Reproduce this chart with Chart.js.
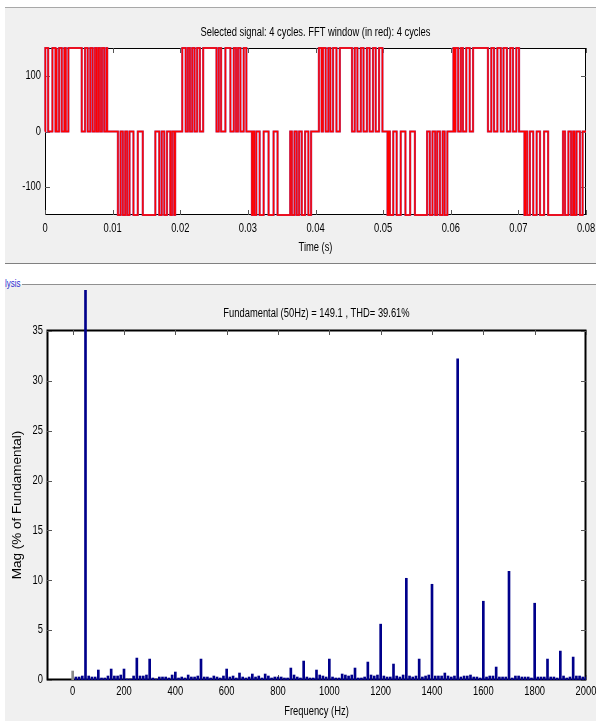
<!DOCTYPE html>
<html>
<head>
<meta charset="utf-8">
<script src="https://cdn.jsdelivr.net/npm/chart.js@4.4.0/dist/chart.umd.min.js"></script>
<style>
  body { margin: 0; width: 596px; height: 722px; background: #fff; position: relative; overflow: hidden; }
  .panel { position: absolute; background: #f0f0f0; }
  #topPanel { left: 5px; top: 7px; width: 591px; height: 255px; border-top: 1px solid #a8a8a8; border-bottom: 1px solid #808080; }
  #botPanel { left: 5px; top: 284px; width: 591px; height: 437px; }
  #groupLine { position: absolute; left: 22px; top: 284px; width: 574px; height: 1px; background: #909090; }
  #groupLabel { position: absolute; left: 5px; top: 278px; font: 10px "Liberation Sans", sans-serif; color: #2b2bd0; transform: scaleX(0.8); transform-origin: left top; }
  .box { position: absolute; left: 0; width: 596px; }
  #topBox { top: 8px; height: 255px; }
  #botBox { top: 290px; height: 432px; }
</style>
</head>
<body>
<div class="panel" id="topPanel"></div>
<div class="panel" id="botPanel"></div>
<div id="groupLine"></div>
<div id="groupLabel">lysis</div>
<div class="box" id="topBox"><canvas id="signalChart"></canvas></div>
<div class="box" id="botBox"><canvas id="fftChart"></canvas></div>
<script>
// ---- top panel: signal, pulses per half cycle [on, off] in ms ----
const signalTitle = 'Selected signal: 4 cycles. FFT window (in red): 4 cycles';
const timeTitle = 'Time (s)';
const timeTicks = [0, 0.01, 0.02, 0.03, 0.04, 0.05, 0.06, 0.07, 0.08];
const voltTicks = [-100, 0, 100];
const halfCycleLevels = [150, -150, 150, -150, 150, -150, 150, -150];
const halfCyclePulses = [
  [[0.05, 0.47], [1.1, 1.55], [1.65, 1.74], [2.09, 2.48], [2.87, 3.07], [3.46, 5.43],
   [5.92, 6.31], [6.7, 7.04], [7.39, 7.63], [7.88, 8.13], [8.42, 8.76], [9.1, 9.2]],
  [[10.78, 11.17], [11.51, 11.86], [12.15, 12.5], [13.08, 13.72], [14.46, 16.32],
   [16.9, 17.26], [17.64, 18.04], [18.53, 18.78], [19.12, 19.25]],
  [[20.3, 20.8], [21.13, 21.43], [21.77, 22.12], [22.5, 22.9], [23.39, 25.36],
   [25.7, 26.04], [26.68, 27.42], [27.91, 28.25], [28.54, 28.9], [29.38, 29.78]],
  [[30.6, 30.75], [30.96, 31.25], [31.74, 32.33], [33.06, 33.8], [34.39, 36.26],
   [36.5, 36.89], [37.23, 37.58], [37.97, 38.46], [38.95, 39.35]],
  [[40.5, 40.9], [41.1, 41.5], [41.9, 42.2], [42.6, 43.1], [43.6, 45.4],
   [45.8, 46.2], [46.7, 47.1], [47.6, 48.0], [48.5, 48.9], [49.4, 49.9]],
  [[50.65, 50.8], [51.0, 51.5], [52.0, 52.6], [53.3, 54.0], [54.7, 56.5],
   [56.9, 57.3], [57.7, 58.0], [58.4, 58.8], [59.1, 59.5]],
  [[60.4, 60.55], [60.7, 61.1], [61.5, 61.8], [62.3, 62.8], [63.3, 65.5],
   [66.0, 66.4], [66.9, 67.4], [67.8, 68.3], [68.8, 69.2], [69.7, 70.1]],
  [[70.9, 71.05], [71.3, 71.7], [72.2, 72.7], [73.2, 73.8], [74.4, 76.6],
   [76.9, 77.4], [77.8, 78.1], [78.3, 78.6], [79.1, 79.5]]
];

// ---- bottom panel: harmonic spectrum ----
const fftTitle = 'Fundamental (50Hz) = 149.1 , THD= 39.61%';
const freqTitle = 'Frequency (Hz)';
const magTitle = 'Mag (% of Fundamental)';
const freqTicks = [0, 200, 400, 600, 800, 1000, 1200, 1400, 1600, 1800, 2000];
const magTicks = [0, 5, 10, 15, 20, 25, 30, 35];
const freqs = [
  0, 12.5, 25, 37.5, 50, 62.5, 75, 87.5,
  100, 112.5, 125, 137.5, 150, 162.5, 175, 187.5,
  200, 212.5, 225, 237.5, 250, 262.5, 275, 287.5,
  300, 312.5, 325, 337.5, 350, 362.5, 375, 387.5,
  400, 412.5, 425, 437.5, 450, 462.5, 475, 487.5,
  500, 512.5, 525, 537.5, 550, 562.5, 575, 587.5,
  600, 612.5, 625, 637.5, 650, 662.5, 675, 687.5,
  700, 712.5, 725, 737.5, 750, 762.5, 775, 787.5,
  800, 812.5, 825, 837.5, 850, 862.5, 875, 887.5,
  900, 912.5, 925, 937.5, 950, 962.5, 975, 987.5,
  1000, 1012.5, 1025, 1037.5, 1050, 1062.5, 1075, 1087.5,
  1100, 1112.5, 1125, 1137.5, 1150, 1162.5, 1175, 1187.5,
  1200, 1212.5, 1225, 1237.5, 1250, 1262.5, 1275, 1287.5,
  1300, 1312.5, 1325, 1337.5, 1350, 1362.5, 1375, 1387.5,
  1400, 1412.5, 1425, 1437.5, 1450, 1462.5, 1475, 1487.5,
  1500, 1512.5, 1525, 1537.5, 1550, 1562.5, 1575, 1587.5,
  1600, 1612.5, 1625, 1637.5, 1650, 1662.5, 1675, 1687.5,
  1700, 1712.5, 1725, 1737.5, 1750, 1762.5, 1775, 1787.5,
  1800, 1812.5, 1825, 1837.5, 1850, 1862.5, 1875, 1887.5,
  1900, 1912.5, 1925, 1937.5, 1950, 1962.5, 1975, 1987.5,
  2000
];
const mags = [
  0.9, 0.3, 0.3, 0.4, 100, 0.4, 0.3, 0.3,
  1.0, 0.2, 0.2, 0.4, 1.1, 0.4, 0.4, 0.5,
  1.1, 0.1, 0.1, 0.4, 2.2, 0.4, 0.4, 0.5,
  2.1, 0.2, 0.1, 0.3, 0.3, 0.3, 0.2, 0.5,
  0.8, 0.2, 0.3, 0.2, 0.5, 0.3, 0.3, 0.4,
  2.1, 0.3, 0.3, 0.2, 0.4, 0.3, 0.2, 0.4,
  1.1, 0.3, 0.4, 0.2, 0.7, 0.3, 0.2, 0.3,
  0.6, 0.3, 0.4, 0.2, 0.6, 0.4, 0.2, 0.3,
  0.3, 0.3, 0.2, 0.2, 1.2, 0.5, 0.3, 0.2,
  1.9, 0.3, 0.2, 0.2, 1.0, 0.5, 0.4, 0.3,
  2.1, 0.3, 0.2, 0.2, 0.6, 0.5, 0.4, 0.5,
  1.2, 0.2, 0.2, 0.3, 1.8, 0.5, 0.4, 0.5,
  5.6, 0.4, 0.3, 0.3, 1.6, 0.4, 0.3, 0.5,
  10.2, 0.4, 0.3, 0.4, 2.1, 0.3, 0.4, 0.5,
  9.6, 0.4, 0.4, 0.4, 0.7, 0.4, 0.3, 0.4,
  32.2, 0.3, 0.4, 0.4, 0.5, 0.3, 0.3, 0.2,
  7.9, 0.3, 0.4, 0.4, 1.3, 0.3, 0.3, 0.3,
  10.9, 0.2, 0.4, 0.4, 0.3, 0.3, 0.3, 0.2,
  7.7, 0.3, 0.3, 0.3, 2.1, 0.3, 0.3, 0.2,
  2.9, 0.4, 0.2, 0.3, 2.3, 0.4, 0.4, 0.3,
  0.3
];

// MATLAB axes text is a narrow Helvetica; squeeze Liberation Sans to match
function narrowText(ctx, text, x, y, align) {
  ctx.save();
  ctx.translate(x, y);
  ctx.scale(0.78, 1);
  ctx.font = '12px "Liberation Sans", Arial, sans-serif';
  ctx.fillStyle = '#000';
  ctx.textAlign = align;
  ctx.textBaseline = 'middle';
  ctx.fillText(text, 0, 0);
  ctx.restore();
}

// white axes box, inward ticks on all sides, labels and titles
const matlabFrame = {
  id: 'matlabFrame',
  beforeDraw(chart) {
    const { ctx, chartArea: a } = chart;
    ctx.save();
    ctx.fillStyle = '#fff';
    ctx.fillRect(a.left, a.top, a.right - a.left, a.bottom - a.top);
    ctx.restore();
  },
  beforeDatasetsDraw(chart, args, opts) {
    const { ctx, chartArea: a, scales: { x, y } } = chart;
    ctx.save();
    ctx.strokeStyle = '#000';
    ctx.lineWidth = opts.lineWidth || 1;
    ctx.strokeRect(a.left + 0.5, a.top + 0.5, a.right - a.left - 1, a.bottom - a.top - 1);
    ctx.strokeStyle = '#555';
    ctx.lineWidth = 1;
    ctx.beginPath();
    x.ticks.forEach(t => {
      const px = Math.round(x.getPixelForValue(t.value)) + 0.5;
      ctx.moveTo(px, a.bottom); ctx.lineTo(px, a.bottom - 5);
      ctx.moveTo(px, a.top); ctx.lineTo(px, a.top + 5);
    });
    y.ticks.forEach(t => {
      const py = Math.round(y.getPixelForValue(t.value)) + 0.5;
      ctx.moveTo(a.left, py); ctx.lineTo(a.left + 5, py);
      ctx.moveTo(a.right, py); ctx.lineTo(a.right - 5, py);
    });
    ctx.stroke();
    ctx.restore();

    x.ticks.forEach(t => narrowText(ctx, String(t.value), x.getPixelForValue(t.value), a.bottom + opts.xLabelGap, 'center'));
    y.ticks.forEach(t => narrowText(ctx, String(t.value), a.left - 4, y.getPixelForValue(t.value), 'right'));
    narrowText(ctx, opts.title, (a.left + a.right) / 2, a.top - opts.titleGap, 'center');
    narrowText(ctx, opts.xTitle, (a.left + a.right) / 2, a.bottom + opts.xTitleGap, 'center');
  }
};

function fixedTicks(values) {
  return scale => { scale.ticks = values.map(v => ({ value: v })); };
}

function buildSignal() {
  const pts = [{ x: 0, y: 0 }];
  halfCyclePulses.forEach((pulses, i) => {
    const level = halfCycleLevels[i];
    pulses.forEach(([on, off]) => {
      pts.push({ x: on / 1000, y: 0 }, { x: on / 1000, y: level }, { x: off / 1000, y: level }, { x: off / 1000, y: 0 });
    });
  });
  pts.push({ x: 0.08, y: 0 });
  return pts;
}

const signal = buildSignal();

new Chart(document.getElementById('signalChart'), {
  type: 'line',
  data: {
    datasets: [
      // selected signal underneath, FFT window (red) on top
      { data: signal, borderColor: '#a8438a', borderWidth: 2.2, pointRadius: 0, clip: 3, order: 2 },
      { data: signal, borderColor: '#ff0000', borderWidth: 1.3, pointRadius: 0, clip: 3, order: 1 }
    ]
  },
  options: {
    responsive: true,
    maintainAspectRatio: false,
    animation: false,
    events: [],
    layout: { padding: { top: 40, right: 10, left: 0, bottom: 0 } },
    plugins: {
      legend: { display: false },
      tooltip: { enabled: false },
      matlabFrame: { title: signalTitle, titleGap: 15, xTitle: timeTitle, xLabelGap: 14, xTitleGap: 33 }
    },
    scales: {
      x: {
        type: 'linear', min: 0, max: 0.08,
        afterBuildTicks: fixedTicks(timeTicks),
        afterFit: s => { s.height = 48; },
        grid: { display: false, drawTicks: false },
        border: { display: false },
        ticks: { display: false }
      },
      y: {
        min: -150, max: 150,
        afterBuildTicks: fixedTicks(voltTicks),
        afterFit: s => { s.width = 45; },
        grid: { display: false, drawTicks: false },
        border: { display: false },
        ticks: { display: false }
      }
    }
  },
  plugins: [matlabFrame]
});

new Chart(document.getElementById('fftChart'), {
  type: 'bar',
  data: {
    datasets: [{
      data: freqs.map((f, i) => ({ x: f, y: mags[i] })),
      backgroundColor: freqs.map(f => f === 0 ? '#8a8a8a' : '#00008b'),
      barThickness: 2,
      borderWidth: 0,
      clip: { left: 0, right: 0, bottom: 0, top: 41 }
    }]
  },
  options: {
    responsive: true,
    maintainAspectRatio: false,
    animation: false,
    events: [],
    layout: { padding: { top: 40, right: 10, left: 0, bottom: 0 } },
    plugins: {
      legend: { display: false },
      tooltip: { enabled: false },
      matlabFrame: { title: fftTitle, titleGap: 16, xTitle: freqTitle, xLabelGap: 12, xTitleGap: 32, lineWidth: 2 }
    },
    scales: {
      x: {
        type: 'linear', min: -100, max: 2000, offset: false,
        afterBuildTicks: fixedTicks(freqTicks),
        afterFit: s => { s.height = 42; },
        grid: { display: false, drawTicks: false, offset: false },
        border: { display: false },
        ticks: { display: false }
      },
      y: {
        min: 0, max: 35.1,
        afterBuildTicks: fixedTicks(magTicks),
        afterFit: s => { s.width = 47; },
        grid: { display: false, drawTicks: false },
        border: { display: false },
        ticks: { display: false },
        title: { display: true, text: magTitle, color: '#000', font: { family: '"Liberation Sans", sans-serif', size: 13.5 }, padding: { top: 9, bottom: 0 } }
      }
    }
  },
  plugins: [matlabFrame]
});
</script>
</body>
</html>
